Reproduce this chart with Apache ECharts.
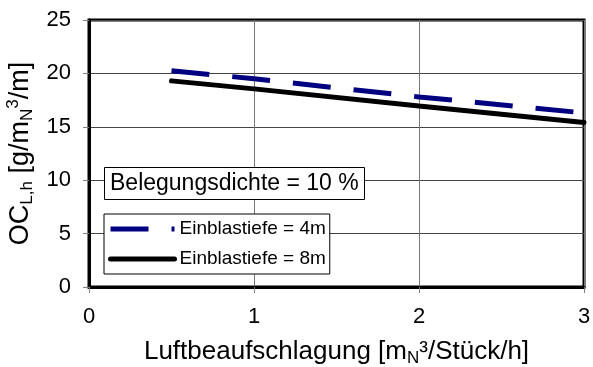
<!DOCTYPE html>
<html><head><meta charset="utf-8">
<script src="https://cdn.jsdelivr.net/npm/echarts@6/dist/echarts.min.js"></script>
<style>html,body{margin:0;padding:0;background:#fff}#c{width:593px;height:367px}</style>
</head><body><div id="c"></div>
<script>
const xVals = [0.5, 1, 2, 3];
const series4m = [20.25, 19.5, 17.8, 16.3];
const series8m = [19.3, 18.55, 16.95, 15.4];
const seriesNames = ['Einblastiefe = 4m', 'Einblastiefe = 8m'];
const xTicks = [0, 1, 2, 3];
const yTicks = [0, 5, 10, 15, 20, 25];
const noteText = 'Belegungsdichte = 10 %';

const font = 'Arial, "Liberation Sans", sans-serif';
const chart = echarts.init(document.getElementById('c'), null, {renderer: 'canvas'});
chart.setOption({
  animation: false,
  backgroundColor: '#fff',
  textStyle: {fontFamily: font},
  grid: {left: 89, right: 9, top: 20, bottom: 80, show: true, borderColor: '#000', borderWidth: 3,
         backgroundColor: 'transparent', containLabel: false, outerBoundsMode: 'none'},
  title: {
    text: noteText, left: 104, top: 167, borderColor: '#000', borderWidth: 1, backgroundColor: '#fff',
    padding: [5, 6, 5, 6],
    textStyle: {fontFamily: font, fontSize: 23, fontWeight: 'normal', color: '#000', lineHeight: 23}
  },
  legend: {
    left: 104, top: 214, orient: 'vertical', borderColor: '#000', borderWidth: 1, backgroundColor: '#fff',
    padding: [5, 4, 5, 4], itemGap: 10, itemWidth: 64, itemHeight: 20,
    itemStyle: {opacity: 0},
    lineStyle: {width: 5},
    textStyle: {fontFamily: font, fontSize: 19, color: '#000', lineHeight: 20},
    data: seriesNames
  },
  xAxis: {
    type: 'value', min: xTicks[0], max: xTicks[xTicks.length - 1], interval: 1,
    name: '{a|Luftbeaufschlagung [m}{s|N}{a|³/Stück/h]}', nameLocation: 'middle', nameGap: 49,
    nameTextStyle: {rich: {
      a: {fontFamily: font, fontSize: 26, color: '#000'},
      s: {fontFamily: font, fontSize: 17, color: '#000', padding: [14, 0, 0, 0]}
    }},
    axisLine: {lineStyle: {color: '#000', width: 3}},
    axisTick: {show: true, length: 6, lineStyle: {color: '#808080', width: 1}},
    axisLabel: {fontFamily: font, fontSize: 22, color: '#000', margin: 19},
    splitLine: {show: true, lineStyle: {color: '#777', width: 1}}
  },
  yAxis: {
    type: 'value', min: yTicks[0], max: yTicks[yTicks.length - 1], interval: 5,
    name: '{a|OC}{s|L,h}{a| [g/m}{s|N}{p|3}{a|/m]}', nameLocation: 'middle', nameGap: 51,
    nameTextStyle: {rich: {
      a: {fontFamily: font, fontSize: 27, color: '#000'},
      s: {fontFamily: font, fontSize: 17, color: '#000', padding: [14, 0, 0, 0]},
      p: {fontFamily: font, fontSize: 17, color: '#000', padding: [0, 0, 14, 0]}
    }},
    axisLine: {show: true, lineStyle: {color: '#000', width: 3}},
    axisTick: {show: true, length: 6, lineStyle: {color: '#808080', width: 1}},
    axisLabel: {fontFamily: font, fontSize: 22, color: '#000', margin: 18},
    splitLine: {show: true, lineStyle: {color: '#444', width: 1}}
  },
  series: [
    {name: seriesNames[0], type: 'line', symbol: 'none', data: xVals.map((x, i) => [x, series4m[i]]),
     lineStyle: {color: '#000080', width: 5, type: [38, 23], cap: 'butt'}, itemStyle: {color: '#000080'}, z: 3},
    {name: seriesNames[1], type: 'line', symbol: 'none', data: xVals.map((x, i) => [x, series8m[i]]),
     lineStyle: {color: '#000', width: 5, type: 'solid', cap: 'round'}, itemStyle: {color: '#000'}, z: 4}
  ]
});
</script></body></html>
